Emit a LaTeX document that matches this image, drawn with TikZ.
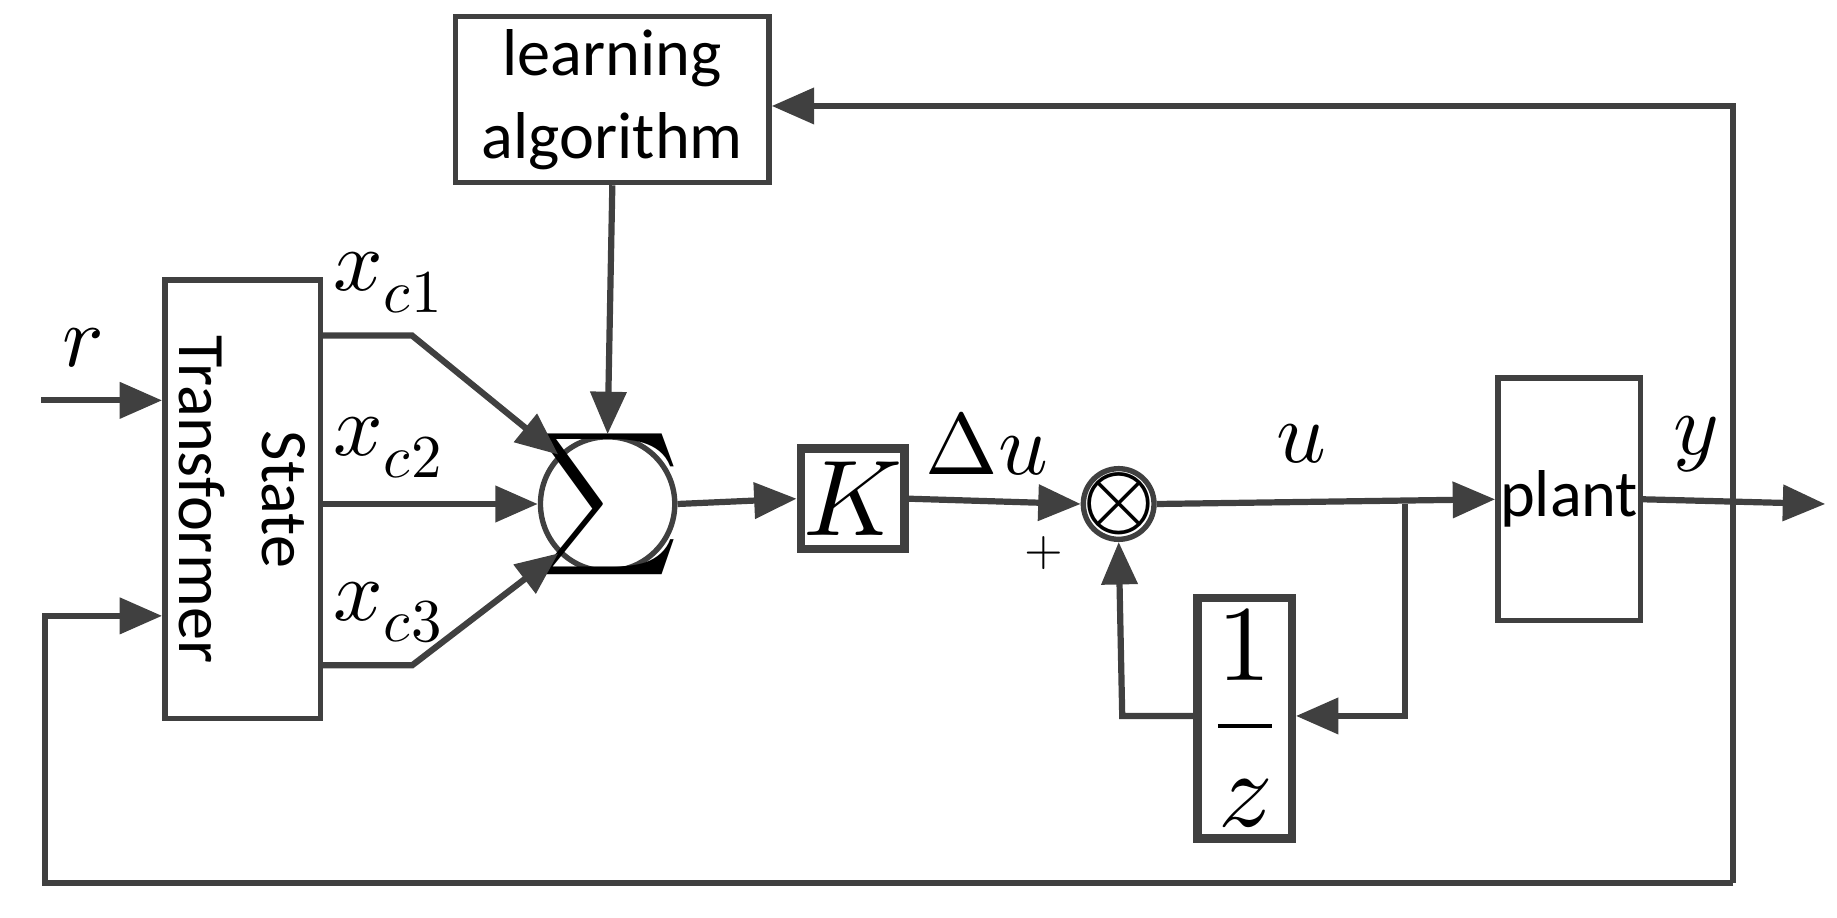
\documentclass[tikz,border=0pt]{standalone}
\usepackage{fontspec}
\setmainfont{Carlito}
\usepackage{unicode-math}
\setmathfont{Latin Modern Math}
\usetikzlibrary{arrows.meta}
\definecolor{ln}{HTML}{404040}
\begin{document}
\begin{tikzpicture}[x=0.01cm,y=-0.01cm,
  every path/.style={draw=ln,line width=1.5pt},
  arr/.style={-{Triangle[length=0.36cm,width=0.3cm]}},
  box/.style={draw=ln,line width=1.3pt,inner sep=0pt},
  lbl/.style={text=black,font=\fontsize{21}{24}\selectfont}]
\useasboundingbox[draw=none] (0,0) rectangle (1560,779);
% boxes
\node[box,minimum width=2.66cm,minimum height=1.41cm,align=center,font=\fontsize{16}{20}\selectfont,text=black] (la) at (520,84.5) {learning\\algorithm};
\node[box,minimum width=1.32cm,minimum height=3.72cm] (st) at (206,424) {};
\node[rotate=-90,align=center,font=\fontsize{16}{20}\selectfont,text=black] at (206,424) {State\\Transformer};
\node[box,circle,minimum size=1.14cm] (sum) at (516,428) {};
\node[text=black,font=\fontsize{34}{36}\selectfont] at (516,428) {$\sum$};
\node[box,line width=2pt,minimum width=0.88cm,minimum height=0.85cm,text=black,font=\fontsize{26}{28}\selectfont] (K) at (724,423.5) {$K$};
\node[box,circle,minimum size=0.6cm] (mul) at (950,428) {};
\node[text=black,font=\fontsize{22}{24}\selectfont] at (950,428) {$\otimes$};
\node[box,line width=2pt,minimum width=0.8cm,minimum height=2.04cm,text=black,font=\fontsize{26}{28}\selectfont] (dz) at (1057,610) {$\dfrac{1}{z}$};
\node[box,minimum width=1.21cm,minimum height=2.06cm,font=\fontsize{16}{20}\selectfont,text=black] (pl) at (1332.5,424) {plant};
% coordinates
\coordinate (rin) at (35,340);
\coordinate (fbR) at (1472,750);
\coordinate (fbT) at (1472,90);
\coordinate (fbL) at (38,750);
\coordinate (fbLu) at (38,523);
\coordinate (c1a) at (272,285); \coordinate (c1b) at (350,285);
\coordinate (c3a) at (272,565); \coordinate (c3b) at (350,565);
\coordinate (br) at (1193,428); \coordinate (brd) at (1193,608);
\coordinate (lz) at (953,608);
\coordinate (out) at (1550,428);
% connectors
\draw[arr] (rin) -- (rin -| st.west);
\draw[arr] (fbR) -- (fbT) -- (fbT -| la.east);
\draw[arr] (fbR) -- (fbL) -- (fbLu) -- (fbLu -| st.west);
\draw[arr] (c1a) -- (c1b) -- (sum.135);
\draw[arr] (272,428) -- (sum.west);
\draw[arr] (c3a) -- (c3b) -- (sum.225);
\draw[arr] (la.south) -- (sum.north);
\draw[arr] (sum.east) -- (K.west);
\draw[arr] (K.east) -- (mul.west);
\draw[arr] (mul.east) -- (pl.west);
\draw[arr] (br) -- (brd) -- (dz.east |- brd);
\draw[arr] (dz.west |- lz) -- (lz) -- (mul.south);
\draw[arr] (pl.east) -- (out);
% labels
\node[lbl] at (70,295) {$r$};
\node[lbl] at (330,240) {$x_{c1}$};
\node[lbl] at (330,380) {$x_{c2}$};
\node[lbl] at (330,520) {$x_{c3}$};
\node[lbl] at (838,377) {$\Delta u$};
\node[lbl] at (1105,377) {$u$};
\node[lbl] at (1440,377) {$y$};
\node[text=black,font=\fontsize{12}{14}\selectfont] at (886,470) {$+$};
\end{tikzpicture}
\end{document}
